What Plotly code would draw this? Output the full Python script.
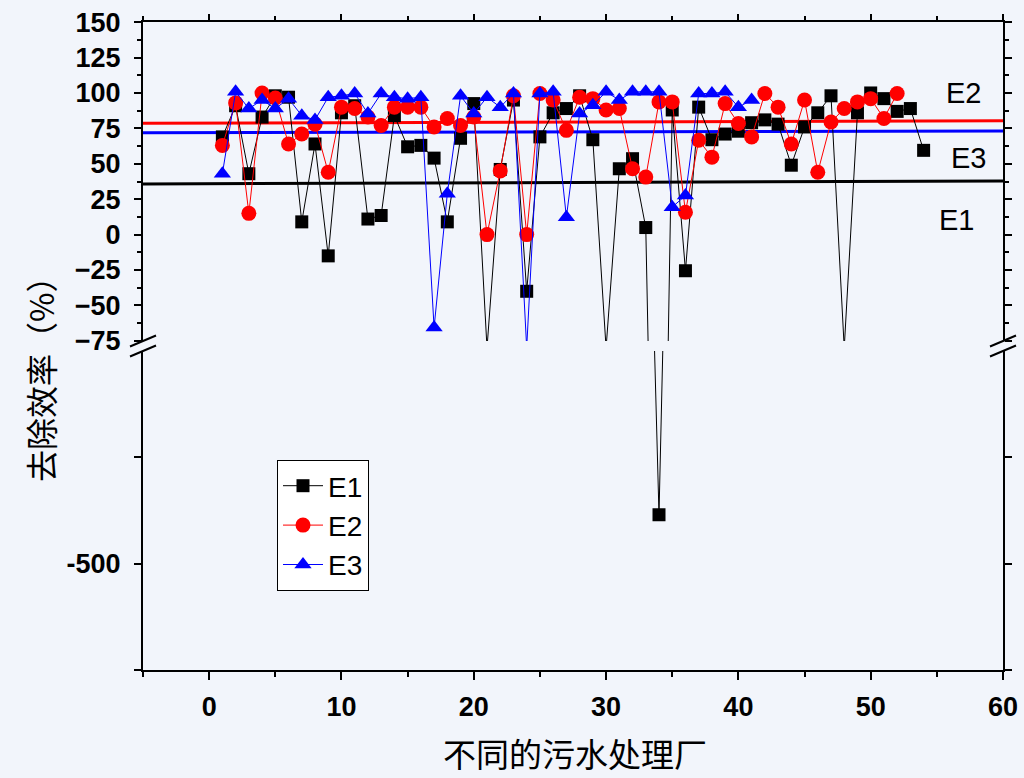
import plotly.graph_objects as go

# ---------------- data ----------------
plants_E1 = list(range(1, 55))
plants_E2 = list(range(1, 53))
plants_E3 = list(range(1, 42))

E1 = [69, 91, 43, 83, 98, 97, 9, 64, -15, 86,
      91, 11, 13.5, 84, 62, 63, 54, 9, 68, 92.5,
      -80, 46, 95, -40, 69, 86, 89, 98, 67, -80,
      46.5, 53.6, 5, -454, 88, -25.5, 90, 67, 71, 73,
      79, 81, 78, 49, 76, 86, 98, -80, 86, 100,
      96, 87, 89, 59.5]

E2 = [63, 93, 15, 100, 96.5, 64, 71, 78, 44, 90,
      89, 83, 77, 90, 90, 90, 76, 82, 77, 83,
      0, 45, 98, 0, 99.6, 95, 73.6, 97, 96, 88,
      89, 46.5, 40.6, 93.7, 93.7, 15.8, 66.6, 54.7, 92.5, 78.4,
      69, 99.6, 90, 64, 95, 44, 79.5, 89, 93.7, 96,
      82, 99.6]

E3 = [43, 100.8, 89, 95, 89, 96, 84, 81, 97, 98,
      99.6, 85.5, 99.6, 97, 96, 97, -65.6, 28.8, 98, 85.5,
      97, 90, 99.6, -80, 99.6, 100.8, 12.3, 85.5, 91.4, 100.8,
      95, 100.8, 100.8, 100.8, 19.4, 27.6, 99.6, 99.6, 100.8, 90,
      95]

fit_x = [-5, 60]
E1_fit = [35.8, 37.9]
E2_fit = [78.6, 80.4]
E3_fit = [71.9, 73.1]

upper_ticks = [-75, -50, -25, 0, 25, 50, 75, 100, 125, 150]
lower_ticks = [-600, -500, -400]
lower_ticktext = ['', '-500', '']
x_ticks = [0, 10, 20, 30, 40, 50, 60]

# ---------------- figure ----------------
fig = go.Figure()

# fitted average lines (upper panel)
for yy, col in [(E1_fit, 'black'), (E2_fit, '#FF0000'), (E3_fit, '#0000FF')]:
    fig.add_trace(go.Scatter(x=fit_x, y=yy, mode='lines', showlegend=False,
                             line=dict(color=col, width=3), hoverinfo='skip',
                             xaxis='x2', yaxis='y'))

# series in upper panel
fig.add_trace(go.Scatter(x=plants_E1, y=E1, mode='lines+markers', name='E1',
                         line=dict(color='black', width=1),
                         marker=dict(symbol='square', size=13, color='black'),
                         xaxis='x2', yaxis='y'))
fig.add_trace(go.Scatter(x=plants_E2, y=E2, mode='lines+markers', name='E2',
                         line=dict(color='#FF0000', width=1),
                         marker=dict(symbol='circle', size=15, color='#FF0000'),
                         xaxis='x2', yaxis='y'))
fig.add_trace(go.Scatter(x=plants_E3, y=E3, mode='lines+markers', name='E3',
                         line=dict(color='#0000FF', width=1),
                         marker=dict(symbol='triangle-up', size=15, color='#0000FF'),
                         xaxis='x2', yaxis='y'))

# E1 in lower (broken) panel
fig.add_trace(go.Scatter(x=plants_E1, y=E1, mode='lines+markers', showlegend=False,
                         line=dict(color='black', width=1),
                         marker=dict(symbol='square', size=13, color='black'),
                         xaxis='x', yaxis='y2'))

tickfont = dict(family='Liberation Sans, Arial', size=27, color='black', weight='bold')
axis_common = dict(showline=True, linecolor='black', linewidth=2, showgrid=False,
                   zeroline=False, ticks='outside', tickcolor='black', tickwidth=2,
                   automargin=False)

L, R, T, B = 143, 21, 22, 108
W, H = 1024, 778
plot_w = W - L - R
plot_h = H - T - B
upper_bottom_px = 341
lower_top_px = 351
bottom_px = H - B
up_dom = (bottom_px - upper_bottom_px) / plot_h
low_dom = (bottom_px - lower_top_px) / plot_h

fig.update_layout(
    width=W, height=H, autosize=False,
    margin=dict(l=L, r=R, t=T, b=B, pad=0, autoexpand=False),
    paper_bgcolor='#F2F5FB', plot_bgcolor='#F2F5FB',
    font=dict(family='Liberation Sans, Arial', color='black'),
    xaxis=dict(domain=[0, 1], range=[-5, 60], anchor='y2', side='bottom',
               tickmode='array', tickvals=x_ticks, ticklen=8,
               minor=dict(dtick=5, tick0=0, ticks='outside', ticklen=5,
                          tickwidth=2, tickcolor='black'),
               tickfont=tickfont, ticklabelstandoff=4, **axis_common),
    xaxis2=dict(domain=[0, 1], range=[-5, 60], anchor='y', side='top',
                matches='x', tickmode='array', tickvals=x_ticks, ticklen=6,
                showticklabels=False,
                minor=dict(dtick=5, tick0=0, ticks='outside', ticklen=4,
                           tickwidth=2, tickcolor='black'),
                **axis_common),
    yaxis=dict(domain=[up_dom, 1], range=[-75.1, 150.1], anchor='x2',
               tickmode='array', tickvals=upper_ticks, ticklen=7,
               mirror='ticks',
               minor=dict(dtick=12.5, tick0=0, ticks='outside', ticklen=4,
                          tickwidth=2, tickcolor='black'),
               tickfont=tickfont, ticklabelstandoff=8, **axis_common),
    yaxis2=dict(domain=[0, low_dom], range=[-600, -300], anchor='x',
                tickmode='array', tickvals=lower_ticks, ticktext=lower_ticktext,
                ticklen=7, mirror='ticks',
                tickfont=tickfont, ticklabelstandoff=8, **axis_common),
    legend=dict(x=(277 - L) / plot_w, y=(bottom_px - 460) / plot_h,
                xanchor='left', yanchor='top', bgcolor='white',
                bordercolor='black', borderwidth=1, itemwidth=40,
                font=dict(family='Liberation Sans, Arial', size=28, color='black'),
                tracegroupgap=0),
    showlegend=True,
)

# series labels on the right
for txt, xx, yy in [('E2', 57.0, 100), ('E3', 57.4, 54), ('E1', 56.5, 10.4)]:
    fig.add_annotation(x=xx, y=yy, xref='x2', yref='y', text=txt, showarrow=False,
                       xanchor='center', yanchor='middle',
                       font=dict(family='Liberation Sans, Arial', size=29, color='black'))

# axis titles
fig.add_annotation(x=(575 - L) / plot_w, y=(bottom_px - 753) / plot_h,
                   xref='paper', yref='paper', text='不同的污水处理厂', showarrow=False,
                   xanchor='center', yanchor='middle',
                   font=dict(family='Noto Sans CJK SC', size=33, color='black'))
fig.add_annotation(x=(40 - L) / plot_w, y=(bottom_px - 372) / plot_h,
                   xref='paper', yref='paper', text='去除效率（%）', showarrow=False,
                   textangle=-90, xanchor='center', yanchor='middle',
                   font=dict(family='Noto Sans CJK SC', size=32, color='black'))

# axis break marks
def px2paper(px, py):
    return (px - L) / plot_w, (bottom_px - py) / plot_h

for ax_px in (L, W - R):
    for through in (upper_bottom_px, lower_top_px):
        x0, y0 = px2paper(ax_px - 13, through + 5.5)
        x1, y1 = px2paper(ax_px + 13, through - 5.5)
        fig.add_shape(type='line', xref='paper', yref='paper',
                      x0=x0, y0=y0, x1=x1, y1=y1,
                      line=dict(color='black', width=2))

fig.write_html('out.html')
